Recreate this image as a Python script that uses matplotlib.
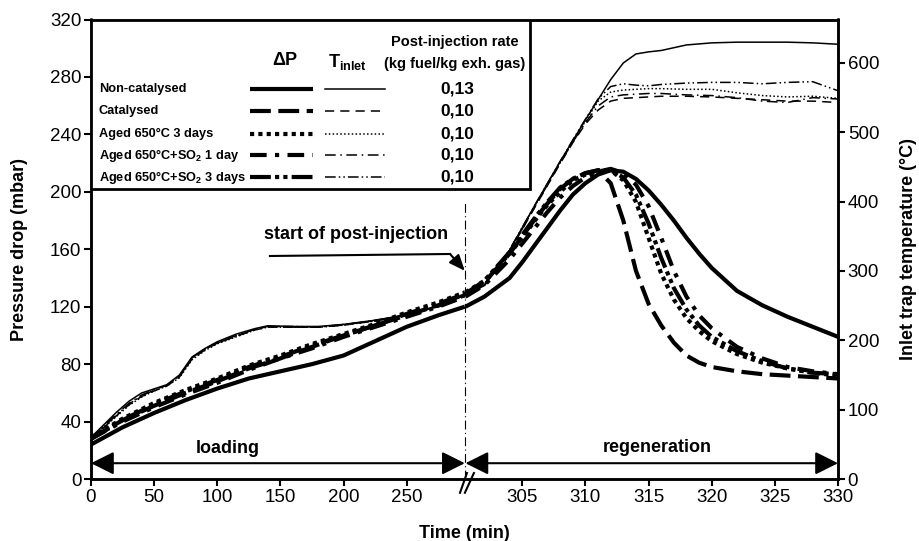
import numpy as np
import matplotlib
matplotlib.use('Agg')
import matplotlib.pyplot as plt
from matplotlib.patches import Rectangle
from matplotlib.transforms import blended_transform_factory

plt.rcParams['font.family'] = ['Liberation Sans', 'DejaVu Sans']
plt.rcParams['mathtext.default'] = 'regular'

# ---------------- data ----------------
names = ['Non-catalysed', 'Catalysed', 'Aged 650°C 3 days',
         'Aged 650°C+SO$_2$ 1 day', 'Aged 650°C+SO$_2$ 3 days']
rates = ['0,13', '0,10', '0,10', '0,10', '0,10']

# pressure drop (mbar), loading phase
t_load_p = [0, 25, 50, 75, 100, 125, 150, 175, 200, 225, 250, 275, 296]
dp_noncat_load = [24, 36, 46, 55, 63, 70, 75, 80, 86, 96, 106, 114, 120]
dp_cat_load = [28, 41, 51, 60, 68, 77, 84, 92, 100, 107, 114, 121, 128]
dp_aged_load = [29, 42, 53, 62, 70, 79, 86, 94, 101, 108, 116, 123, 130]
dp_so2a_load = [28, 40, 50, 59, 67, 76, 84, 91, 99, 106, 113, 120, 127]
dp_so2b_load = [28, 41, 52, 61, 69, 78, 85, 93, 100, 107, 115, 122, 129]

# pressure drop (mbar), regeneration phase
t_reg_p = [300.5, 302, 304, 305, 306, 307, 308, 309, 310, 311, 312, 313, 314,
           315, 316, 317, 318, 319, 320, 322, 324, 326, 328, 330]
dp_noncat_reg = [120, 127, 140, 151, 163, 175, 187, 198, 206, 212, 215, 214, 209,
                 201, 191, 180, 168, 157, 147, 131, 121, 113, 106, 99]
dp_cat_reg = [128, 137, 157, 169, 181, 192, 202, 209, 213, 215, 206, 180, 145,
              122, 107, 95, 86, 81, 78, 75, 73, 72, 71, 70]
dp_aged_reg = [130, 138, 157, 168, 180, 191, 200, 208, 212, 214, 215, 208, 193,
               168, 143, 125, 112, 103, 96, 87, 81, 77, 74, 72]
dp_so2a_reg = [127, 135, 153, 164, 175, 186, 196, 204, 210, 214, 216, 213, 205,
               190, 168, 145, 127, 114, 105, 92, 84, 78, 75, 73]
dp_so2b_reg = [129, 138, 158, 170, 182, 193, 203, 209, 213, 215, 215, 210, 198,
               178, 154, 133, 118, 107, 99, 89, 82, 77, 74, 73]

# inlet temperature (°C), loading phase
t_load_T = [0, 10, 20, 30, 40, 50, 60, 70, 80, 90, 100, 115, 130, 140, 160, 180,
            200, 225, 250, 275, 296]
T_noncat_load = [60, 78, 96, 112, 124, 130, 136, 150, 176, 188, 198, 209, 217, 221,
                 220, 220, 223, 229, 237, 249, 266]
T_cat_load = [58, 74, 91, 107, 119, 127, 134, 147, 173, 186, 196, 206, 215, 219,
              219, 219, 222, 228, 236, 249, 265]
T_aged_load = [58, 74, 90, 106, 118, 127, 134, 146, 172, 185, 195, 205, 215, 219,
               219, 219, 222, 228, 237, 250, 267]
T_so2a_load = [59, 76, 93, 109, 121, 129, 135, 149, 175, 187, 197, 207, 216, 220,
               219, 219, 222, 229, 236, 248, 265]
T_so2b_load = [58, 75, 92, 108, 120, 128, 135, 148, 174, 187, 196, 206, 216, 220,
               220, 219, 223, 228, 237, 249, 266]

# inlet temperature (°C), regeneration phase
t_reg_T = [300.5, 302, 304, 306, 308, 309, 310, 311, 312, 313, 314, 315, 316, 318,
           320, 322, 324, 326, 328, 330]
T_noncat_reg = [266, 280, 330, 395, 458, 488, 518, 547, 576, 600, 613, 616, 618, 626,
                629, 630, 630, 630, 629, 627]
T_cat_reg = [265, 279, 328, 392, 455, 485, 512, 532, 545, 549, 550, 551, 552, 552,
             551, 549, 547, 545, 545, 543]
T_aged_reg = [266, 280, 330, 394, 457, 487, 516, 545, 558, 561, 562, 563, 563, 562,
              562, 557, 553, 551, 552, 549]
T_so2a_reg = [265, 279, 329, 393, 456, 486, 514, 538, 551, 554, 555, 556, 556, 554,
              553, 550, 545, 543, 550, 548]
T_so2b_reg = [266, 281, 331, 395, 458, 489, 519, 548, 566, 570, 568, 567, 569, 571,
              572, 572, 570, 572, 573, 560]

xticks = [0, 50, 100, 150, 200, 250, 305, 310, 315, 320, 325, 330]

# ---------------- broken time axis ----------------
brk_t = [-1000, 0, 296, 300.5, 330, 1330]
brk_u = [-1000, 0, 296, 296.5, 591.5, 10591.5]


def fwd(t):
    return np.interp(t, brk_t, brk_u)


def inv(u):
    return np.interp(u, brk_u, brk_t)


fig = plt.figure(figsize=(9.19, 5.41), dpi=100)
ax = fig.add_axes([91 / 919, 62 / 541, 747 / 919, 459.5 / 541])
ax.set_xscale('function', functions=(fwd, inv))
ax2 = ax.twinx()

thick_styles = ['-', (0, (5, 1.8)), (0, (1, 1)), (0, (4, 2, 1, 2)), (0, (5, 1, 1, 1, 1, 1))]
thin_styles = ['-', (0, (6, 4)), (0, (1, 1.5)), (0, (7, 3, 1, 3)), (0, (7, 2, 1, 2, 1, 2))]

dp_load = [dp_noncat_load, dp_cat_load, dp_aged_load, dp_so2a_load, dp_so2b_load]
dp_reg = [dp_noncat_reg, dp_cat_reg, dp_aged_reg, dp_so2a_reg, dp_so2b_reg]
T_load = [T_noncat_load, T_cat_load, T_aged_load, T_so2a_load, T_so2b_load]
T_reg = [T_noncat_reg, T_cat_reg, T_aged_reg, T_so2a_reg, T_so2b_reg]

for i in range(5):
    ax.plot(t_load_p, dp_load[i], color='k', lw=3, ls=thick_styles[i],
            dash_capstyle='butt', solid_capstyle='butt')
    ax.plot(t_reg_p, dp_reg[i], color='k', lw=3, ls=thick_styles[i],
            dash_capstyle='butt', solid_capstyle='butt')
    ax2.plot(t_load_T, T_load[i], color='k', lw=1.1, ls=thin_styles[i])
    ax2.plot(t_reg_T, T_reg[i], color='k', lw=1.1, ls=thin_styles[i])

ax.set_xlim(0, 330)
ax.set_ylim(0, 320)
ax2.set_ylim(0, 662.7)
ax.set_xticks(xticks)
ax.set_xticklabels([str(x) for x in xticks])
ax.set_yticks(range(0, 321, 40))
ax2.set_yticks(range(0, 601, 100))

for a in (ax, ax2):
    for s in a.spines.values():
        s.set_linewidth(1.8)
    a.tick_params(direction='out', length=5, width=1.5, labelsize=13.5, pad=2)

ax.set_xlabel('Time (min)', fontsize=13, fontweight='bold', labelpad=14)
ax.set_ylabel('Pressure drop (mbar)', fontsize=13, fontweight='bold', labelpad=16)
ax2.set_ylabel('Inlet trap temperature (°C)', fontsize=13, fontweight='bold', labelpad=15)

# start of post-injection marker
ax.plot([296.3, 296.3], [0, 193], color='k', lw=0.8, ls=(0, (8, 3, 1, 3)))
ax.plot([141.7, 284.3], [155.3, 156.7], color='k', lw=1.5)
ax.annotate('', xy=(296, 145), xytext=(284.3, 156.7),
            arrowprops=dict(arrowstyle='-|>,head_length=0.6,head_width=0.25',
                            color='k', lw=1.5, mutation_scale=16, shrinkA=0, shrinkB=0))
ax.text(210, 170, 'start of post-injection', fontsize=13, fontweight='bold',
        ha='center', va='center')

# phase arrows
arrow_kw = dict(arrowstyle='<|-|>,head_length=0.7,head_width=0.35', color='k', lw=1.5,
                mutation_scale=20, shrinkA=0, shrinkB=0)
ax.annotate('', xy=(0, 11), xytext=(296, 11), arrowprops=arrow_kw)
ax.annotate('', xy=(300.5, 11), xytext=(330, 11), arrowprops=arrow_kw)
ax.text(108, 21, 'loading', fontsize=13, fontweight='bold', ha='center', va='center')
ax.text(315.7, 22, 'regeneration', fontsize=13, fontweight='bold', ha='center', va='center')

# axis break marks
tb = blended_transform_factory(ax.transData, ax.transAxes)
ax.plot([292.2, 300.62], [-0.03, 0.013], transform=tb, color='k', lw=1.5, clip_on=False)
ax.plot([296.5, 301.17], [-0.03, 0.013], transform=tb, color='k', lw=1.5, clip_on=False)

# legend table
ta = ax2.transAxes
ax2.add_patch(Rectangle((0, 0.631), 0.5877, 0.369, transform=ta, facecolor='white',
                        edgecolor='k', lw=2, zorder=5))
rows = [0.8487, 0.8009, 0.7508, 0.7051, 0.6572]
for i in range(5):
    y = rows[i]
    ax2.text(0.0107, y, names[i], transform=ta, fontsize=9.2, fontweight='bold',
             ha='left', va='center', zorder=6)
    ax2.plot([0.213, 0.297], [y, y], transform=ta, color='k', lw=3, ls=thick_styles[i],
             dash_capstyle='butt', solid_capstyle='butt', zorder=6)
    ax2.plot([0.313, 0.394], [y, y], transform=ta, color='k', lw=1.1, ls=thin_styles[i],
             zorder=6)
    ax2.text(0.49, y, rates[i], transform=ta, fontsize=12.5, fontweight='bold',
             ha='center', va='center', zorder=6)
ax2.text(0.26, 0.911, 'ΔP', transform=ta, fontsize=13, fontweight='bold',
         ha='center', va='center', zorder=6)
ax2.text(0.343, 0.907, 'T$_{inlet}$', transform=ta, fontsize=13, fontweight='bold',
         ha='center', va='center', zorder=6)
ax2.text(0.487, 0.950, 'Post-injection rate', transform=ta, fontsize=10.5,
         fontweight='bold', ha='center', va='center', zorder=6)
ax2.text(0.487, 0.904, '(kg fuel/kg exh. gas)', transform=ta, fontsize=10.5,
         fontweight='bold', ha='center', va='center', zorder=6)

fig.savefig('out.png', dpi=100, facecolor='white')
